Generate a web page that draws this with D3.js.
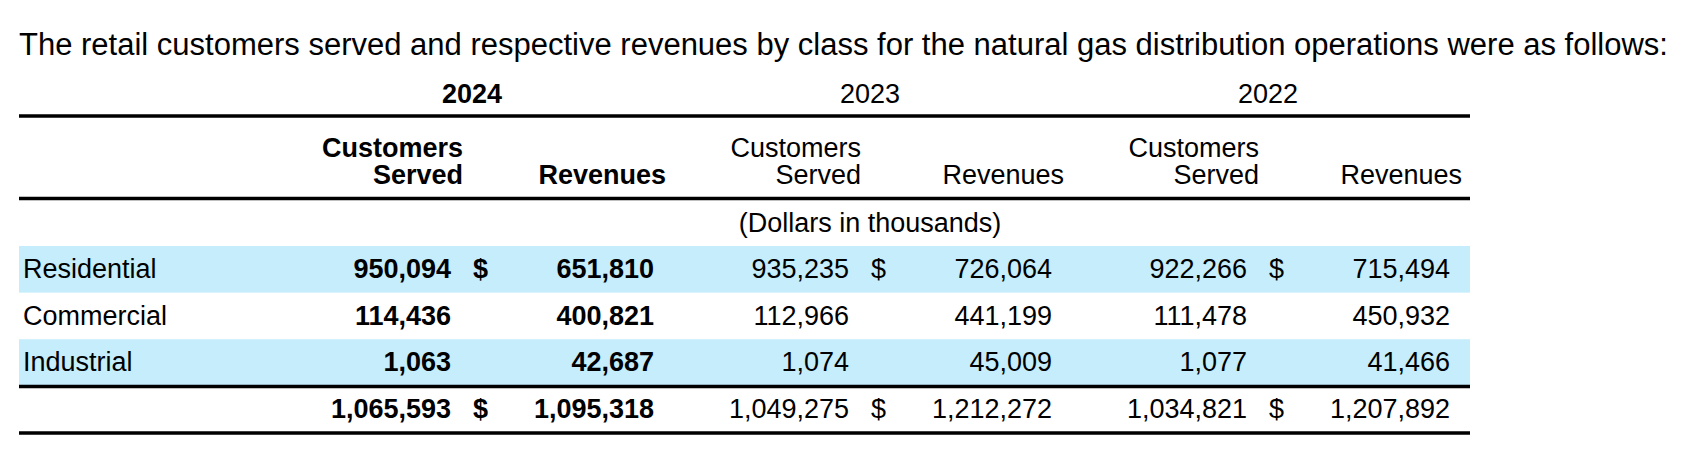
<!DOCTYPE html>
<html>
<head>
<meta charset="utf-8">
<script src="https://cdn.jsdelivr.net/npm/d3@7"></script>
<style>
  html, body { margin: 0; padding: 0; background: #fff; }
  svg { display: block; }
  text { font-family: "Liberation Sans", Arial, Helvetica, sans-serif; fill: #000; }
</style>
</head>
<body>
<svg id="chart"></svg>
<script>
"use strict";

// Table data
const title = "The retail customers served and respective revenues by class for the natural gas distribution operations were as follows:";
const years = ["2024", "2023", "2022"];
const classes = ["Residential", "Commercial", "Industrial"];
const customersServed = {
    "2024": [950094, 114436, 1063],
    "2023": [935235, 112966, 1074],
    "2022": [922266, 111478, 1077]
};
const revenues = {
    "2024": [651810, 400821, 42687],
    "2023": [726064, 441199, 45009],
    "2022": [715494, 450932, 41466]
};
const totalCustomers = { "2024": 1065593, "2023": 1049275, "2022": 1034821 };
const totalRevenues = { "2024": 1095318, "2023": 1212272, "2022": 1207892 };
const unitsNote = "(Dollars in thousands)";
const boldYear = "2024";

const width = 1692;
const height = 460;
const left = 19;
const right = 1470;
const bandColor = "#c5edfc";

const svg = d3.select('#chart')
    .attr('width', width)
    .attr('height', height);

const fmt = d3.format(',');

// Rows: the three classes plus the total line
const rows = classes.concat(['Total']);
const y = d3.scaleBand()
    .domain(rows)
    .range([246, 432.5]);

// Right edge of the customers column for each year group
const xCust = d3.scalePoint()
    .domain(years)
    .range([451, 1247]);
const revOffset = 203;   // revenues column right edge, relative to customers
const dollarOffset = 22; // "$" left edge, relative to customers
const headPad = 12;      // headers sit a little right of the numbers

// Shaded bands for alternate rows
svg.append('g')
    .selectAll('rect')
    .data(rows.filter((d, i) => i % 2 === 0 && d !== 'Total'))
    .enter().append('rect')
    .attr('x', left)
    .attr('y', d => y(d))
    .attr('width', right - left)
    .attr('height', y.bandwidth())
    .attr('fill', bandColor);

// Title line
svg.append('text')
    .attr('x', left)
    .attr('y', 55)
    .style('font-size', '31px')
    .text(title);

// Year headers
svg.append('g')
    .selectAll('text')
    .data(years)
    .enter().append('text')
    .attr('x', d => xCust(d) + 21)
    .attr('y', 103)
    .attr('text-anchor', 'middle')
    .style('font-size', '27px')
    .style('font-weight', d => d === boldYear ? 'bold' : 'normal')
    .text(d => d);

// Column headers
const headers = svg.append('g')
    .selectAll('g')
    .data(years)
    .enter().append('g')
    .style('font-size', '27px')
    .style('font-weight', d => d === boldYear ? 'bold' : 'normal')
    .attr('text-anchor', 'end');

headers.append('text')
    .attr('x', d => xCust(d) + headPad)
    .attr('y', 157)
    .text('Customers');
headers.append('text')
    .attr('x', d => xCust(d) + headPad)
    .attr('y', 184)
    .text('Served');
headers.append('text')
    .attr('x', d => xCust(d) + revOffset + headPad)
    .attr('y', 184)
    .text('Revenues');

svg.append('text')
    .attr('x', xCust('2023') + 21)
    .attr('y', 232)
    .attr('text-anchor', 'middle')
    .style('font-size', '27px')
    .text(unitsNote);

// Horizontal rules
const ruleYs = [116, 198.5, y('Total') + 0.5, y.range()[1] + 0.5];
svg.append('g')
    .selectAll('line')
    .data(ruleYs)
    .enter().append('line')
    .attr('x1', left)
    .attr('x2', right)
    .attr('y1', d => d)
    .attr('y2', d => d)
    .attr('stroke', '#000')
    .attr('stroke-width', 3.5);

// Row labels
const baseline = d => y(d) + 32;
svg.append('g')
    .selectAll('text')
    .data(classes)
    .enter().append('text')
    .attr('x', 23)
    .attr('y', d => baseline(d))
    .style('font-size', '27px')
    .text(d => d);

// Build cells from the arrays
const cells = [];
years.forEach(yr => {
    const bold = yr === boldYear;
    classes.forEach((c, i) => {
        cells.push({ row: c, x: xCust(yr), anchor: 'end', text: fmt(customersServed[yr][i]), bold });
        cells.push({ row: c, x: xCust(yr) + revOffset, anchor: 'end', text: fmt(revenues[yr][i]), bold });
    });
    cells.push({ row: 'Total', x: xCust(yr), anchor: 'end', text: fmt(totalCustomers[yr]), bold });
    cells.push({ row: 'Total', x: xCust(yr) + revOffset, anchor: 'end', text: fmt(totalRevenues[yr]), bold });
    // dollar signs on first and total rows
    [classes[0], 'Total'].forEach(r => {
        cells.push({ row: r, x: xCust(yr) + dollarOffset, anchor: 'start', text: '$', bold });
    });
});

svg.append('g')
    .selectAll('text')
    .data(cells)
    .enter().append('text')
    .attr('x', d => d.x)
    .attr('y', d => baseline(d.row))
    .attr('text-anchor', d => d.anchor)
    .style('font-size', '27px')
    .style('font-weight', d => d.bold ? 'bold' : 'normal')
    .text(d => d.text);
</script>
</body>
</html>
